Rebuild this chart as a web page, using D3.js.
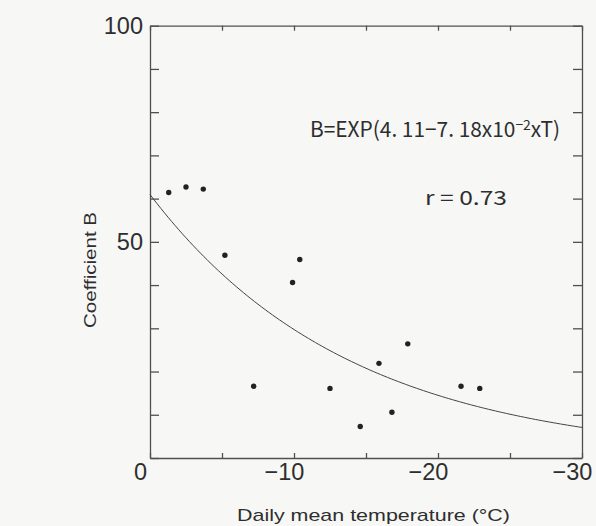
<!DOCTYPE html>
<html>
<head>
<meta charset="utf-8">
<script src="https://cdn.jsdelivr.net/npm/d3@7"></script>
<style>
  html, body { margin: 0; padding: 0; background: #f7f8f6; }
  svg { display: block; }
</style>
</head>
<body>
<div id="chart"></div>
<script>
// daily mean temperature (deg C) and coefficient B
const temps = [-1.3, -2.5, -3.7, -5.2, -7.2, -9.9, -10.4, -12.5, -14.6, -15.9, -16.8, -17.9, -21.6, -22.9];
const coefB = [61.4, 62.7, 62.2, 46.9, 16.6, 40.6, 45.9, 16.1, 7.3, 21.9, 10.6, 26.4, 16.6, 16.1];

const xTickValues = [0, -5, -10, -15, -20, -25, -30];
const xTickLabels = [0, -10, -20, -30];
const yTickValues = [0, 10, 20, 30, 40, 50, 60, 70, 80, 90, 100];
const yTickLabels = [50, 100];

// fitted curve B = EXP(4.11 - 7.18x10^-2 x T), T = |temperature|
const fitA = 4.11, fitB = 7.18e-2;

(function coefficientChart() {
  let width = 596, height = 526;
  const margin = ({ top: 25.7, right: 14, bottom: 68, left: 150 });
  const ink = "#505050";

  const svg = d3.select("#chart")
    .append("svg")
    .attr("width", width)
    .attr("height", height)
    .attr("viewBox", [0, 0, width, height]);

  let x = d3.scaleLinear([0, -30], [margin.left, width - margin.right]);
  let y = d3.scaleLinear([0, 100], [height - margin.bottom, margin.top]);

  const fmt = d => d < 0 ? "\u2212" + Math.abs(d) : String(d);

  // bottom axis
  const gx = svg.append("g")
    .attr("transform", `translate(0,${y(0)})`)
    .call(d3.axisBottom(x).tickValues(xTickValues).tickSizeInner(-5).tickSizeOuter(0).tickPadding(5)
      .tickFormat(d => xTickLabels.includes(d) ? fmt(d) : ""));
  gx.selectAll("text").attr("dx", -10);

  // top axis
  svg.append("g")
    .attr("transform", `translate(0,${y(100)})`)
    .call(d3.axisTop(x).tickValues(xTickValues).tickSizeInner(-5).tickSizeOuter(0).tickFormat(""));

  // left axis
  svg.append("g")
    .attr("transform", `translate(${x(0)},0)`)
    .call(d3.axisLeft(y).tickValues(yTickValues).tickSizeInner(-9).tickSizeOuter(0).tickPadding(7)
      .tickFormat(d => yTickLabels.includes(d) ? d : ""));

  // right axis
  svg.append("g")
    .attr("transform", `translate(${x(-30)},0)`)
    .call(d3.axisRight(y).tickValues(yTickValues).tickSizeInner(-9).tickSizeOuter(0).tickFormat(""));

  svg.selectAll(".domain, .tick line").attr("stroke", ink).attr("stroke-width", 1.3);
  svg.selectAll(".tick text")
    .attr("fill", "#2e2e2e")
    .style("font-family", "'Liberation Sans', Arial, sans-serif")
    .style("font-size", "23.5px");

  // fitted curve
  const curveT = d3.range(0, -30.01, -0.25);
  svg.append("path")
    .datum(curveT)
    .attr("fill", "none")
    .attr("stroke", "#444")
    .attr("stroke-width", 1)
    .attr("d", d3.line()
      .x(t => x(t))
      .y(t => y(Math.exp(fitA - fitB * Math.abs(t)))));

  // observed points
  svg.append("g")
    .selectAll("circle")
    .data(temps.map((t, i) => ({ t, b: coefB[i] })))
    .join("circle")
    .attr("cx", d => x(d.t))
    .attr("cy", d => y(d.b))
    .attr("r", 2.7)
    .attr("fill", "#222");

  // equation and correlation
  const eq = svg.append("text")
    .attr("x", 310)
    .attr("y", 137)
    .attr("fill", "#2e2e2e")
    .style("font-family", "'Noto Sans CJK JP', 'DejaVu Sans', sans-serif")
    .style("font-size", "21px");
  eq.append("tspan").text("B=EXP(4. 11\u22127. 18x10");
  eq.append("tspan").attr("dy", -7).style("font-size", "14px").text("\u22122");
  eq.append("tspan").attr("dy", 7).text("xT)");
  eq.attr("textLength", 250).attr("lengthAdjust", "spacingAndGlyphs");

  svg.append("text")
    .attr("x", 425)
    .attr("y", 204.5)
    .attr("fill", "#2e2e2e")
    .attr("textLength", 82)
    .attr("lengthAdjust", "spacingAndGlyphs")
    .style("font-family", "'Noto Sans CJK JP', 'DejaVu Sans', sans-serif")
    .style("font-size", "19.5px")
    .text("r = 0.73");

  // axis titles
  svg.append("text")
    .attr("x", 237)
    .attr("y", 521)
    .attr("fill", "#2e2e2e")
    .attr("textLength", 273)
    .attr("lengthAdjust", "spacingAndGlyphs")
    .style("font-family", "'Liberation Sans', Arial, sans-serif")
    .style("font-size", "17px")
    .text("Daily mean temperature (\u00B0C)");

  svg.append("text")
    .attr("transform", "translate(96,328) rotate(-90)")
    .attr("fill", "#2e2e2e")
    .attr("textLength", 116)
    .attr("lengthAdjust", "spacingAndGlyphs")
    .style("font-family", "'Liberation Sans', Arial, sans-serif")
    .style("font-size", "17px")
    .text("Coefficient B");
})();
</script>
</body>
</html>
